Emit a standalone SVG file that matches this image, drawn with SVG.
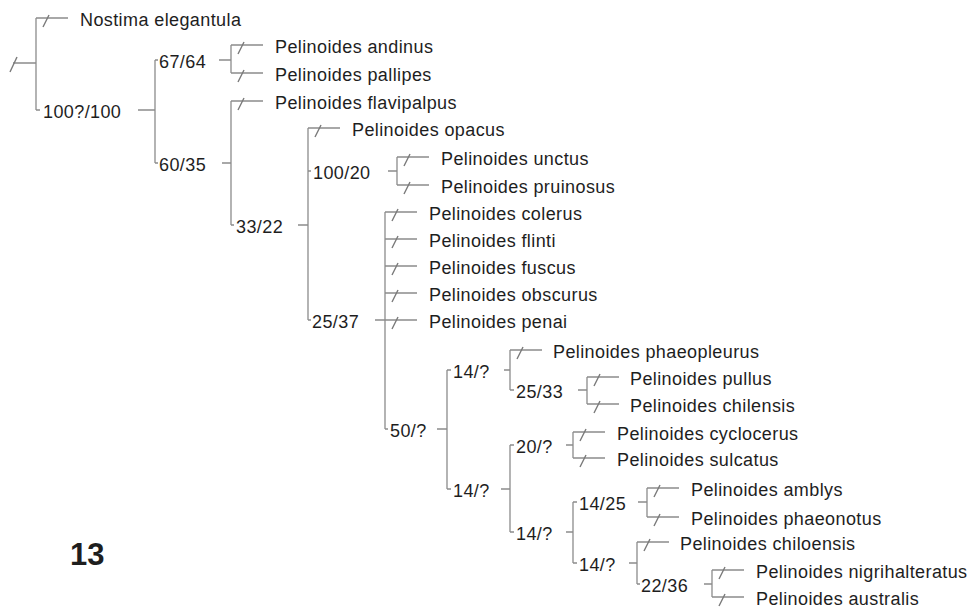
<svg xmlns="http://www.w3.org/2000/svg" xmlns:xlink="http://www.w3.org/1999/xlink" width="972" height="610" viewBox="0 0 972 610">
<defs>
<style>
.ln{fill:none;stroke:#8c8c8c;stroke-width:1.3}
.tk{fill:none;stroke:#7a7a7a;stroke-width:1.4}
text{font-family:"Liberation Sans",Arial,sans-serif;font-size:18px;letter-spacing:0.4px;fill:#1e1e1e}
.fig{font-weight:bold;font-size:31px;letter-spacing:0}
</style>
<path id="tick" class="tk" d="M7,9L13,-3"/>
</defs>
<rect width="972" height="610" fill="#ffffff"/>
<g id="connectors">
<path class="ln" d="M13,63H36 M36,18V110 M36,18H68 M36,110H40 M138,110H155
M155,60V163 M155,60H158 M155,163H158 M219,60H231 M222,163H231
M231,45V73 M231,45H263 M231,73H263
M231,101V225 M231,101H263 M231,225H234 M298,225H308
M308,128V320 M308,128H340 M308,171H311 M308,320H311 M388,171H397 M375,320H385
M397,157V185 M397,157H429 M397,185H429
M385,212V429 M385,212H417 M385,239H417 M385,266H417 M385,293H417 M385,320H417 M385,429H388 M437,429H447
M447,370V489 M447,370H451 M447,489H451 M504,370H510 M501,489H510
M510,350V390 M510,350H542 M510,390H514 M578,390H587
M587,377V404 M587,377H619 M587,404H619
M510,445V532 M510,445H514 M510,532H514 M566,445H573 M566,532H573
M573,432V458 M573,432H605 M573,458H605
M573,502V563 M573,502H577 M573,563H577 M638,502H647 M629,563H637
M647,488V517 M647,488H679 M647,517H679
M637,542V584 M637,542H669 M637,584H640 M704,584H712
M712,570V597 M712,570H744 M712,597H744"/>
<path class="tk" d="M10,72L17,57"/>
<use xlink:href="#tick" x="36" y="18"/>
<use xlink:href="#tick" x="231" y="45"/>
<use xlink:href="#tick" x="231" y="73"/>
<use xlink:href="#tick" x="231" y="101"/>
<use xlink:href="#tick" x="308" y="128"/>
<use xlink:href="#tick" x="397" y="157"/>
<use xlink:href="#tick" x="397" y="185"/>
<use xlink:href="#tick" x="385" y="212"/>
<use xlink:href="#tick" x="385" y="239"/>
<use xlink:href="#tick" x="385" y="266"/>
<use xlink:href="#tick" x="385" y="293"/>
<use xlink:href="#tick" x="385" y="320"/>
<use xlink:href="#tick" x="510" y="350"/>
<use xlink:href="#tick" x="587" y="377"/>
<use xlink:href="#tick" x="587" y="404"/>
<use xlink:href="#tick" x="573" y="432"/>
<use xlink:href="#tick" x="573" y="458"/>
<use xlink:href="#tick" x="647" y="488"/>
<use xlink:href="#tick" x="647" y="517"/>
<use xlink:href="#tick" x="637" y="542"/>
<use xlink:href="#tick" x="712" y="570"/>
<use xlink:href="#tick" x="712" y="597"/>
</g>
<g id="leaf-nostima-elegantula"><text x="80" y="26">Nostima elegantula</text></g>
<g id="leaf-andinus"><text x="275" y="53">Pelinoides andinus</text></g>
<g id="leaf-pallipes"><text x="275" y="81">Pelinoides pallipes</text></g>
<g id="leaf-flavipalpus"><text x="275" y="109">Pelinoides flavipalpus</text></g>
<g id="leaf-opacus"><text x="352" y="136">Pelinoides opacus</text></g>
<g id="leaf-unctus"><text x="441" y="165">Pelinoides unctus</text></g>
<g id="leaf-pruinosus"><text x="441" y="193">Pelinoides pruinosus</text></g>
<g id="leaf-colerus"><text x="429" y="220">Pelinoides colerus</text></g>
<g id="leaf-flinti"><text x="429" y="247">Pelinoides flinti</text></g>
<g id="leaf-fuscus"><text x="429" y="274">Pelinoides fuscus</text></g>
<g id="leaf-obscurus"><text x="429" y="301">Pelinoides obscurus</text></g>
<g id="leaf-penai"><text x="429" y="328">Pelinoides penai</text></g>
<g id="leaf-phaeopleurus"><text x="553" y="358">Pelinoides phaeopleurus</text></g>
<g id="leaf-pullus"><text x="630" y="385">Pelinoides pullus</text></g>
<g id="leaf-chilensis"><text x="630" y="412">Pelinoides chilensis</text></g>
<g id="leaf-cyclocerus"><text x="617" y="440">Pelinoides cyclocerus</text></g>
<g id="leaf-sulcatus"><text x="617" y="466">Pelinoides sulcatus</text></g>
<g id="leaf-amblys"><text x="691" y="496">Pelinoides amblys</text></g>
<g id="leaf-phaeonotus"><text x="691" y="525">Pelinoides phaeonotus</text></g>
<g id="leaf-chiloensis"><text x="680" y="550">Pelinoides chiloensis</text></g>
<g id="leaf-nigrihalteratus"><text x="756" y="578">Pelinoides nigrihalteratus</text></g>
<g id="leaf-australis"><text x="756" y="605">Pelinoides australis</text></g>
<g id="node-A"><text x="43" y="118">100?/100</text></g>
<g id="node-B"><text x="159" y="68">67/64</text></g>
<g id="node-C"><text x="159" y="171">60/35</text></g>
<g id="node-D"><text x="236" y="233">33/22</text></g>
<g id="node-E"><text x="313" y="179">100/20</text></g>
<g id="node-F"><text x="312" y="328">25/37</text></g>
<g id="node-G"><text x="390" y="437">50/?</text></g>
<g id="node-H"><text x="453" y="378">14/?</text></g>
<g id="node-I"><text x="453" y="497">14/?</text></g>
<g id="node-J"><text x="516" y="398">25/33</text></g>
<g id="node-K"><text x="516" y="453">20/?</text></g>
<g id="node-L"><text x="516" y="540">14/?</text></g>
<g id="node-M"><text x="579" y="510">14/25</text></g>
<g id="node-N"><text x="579" y="571">14/?</text></g>
<g id="node-O"><text x="641" y="592">22/36</text></g>
<g id="figure-label"><text class="fig" x="70" y="565">13</text></g>
</svg>
